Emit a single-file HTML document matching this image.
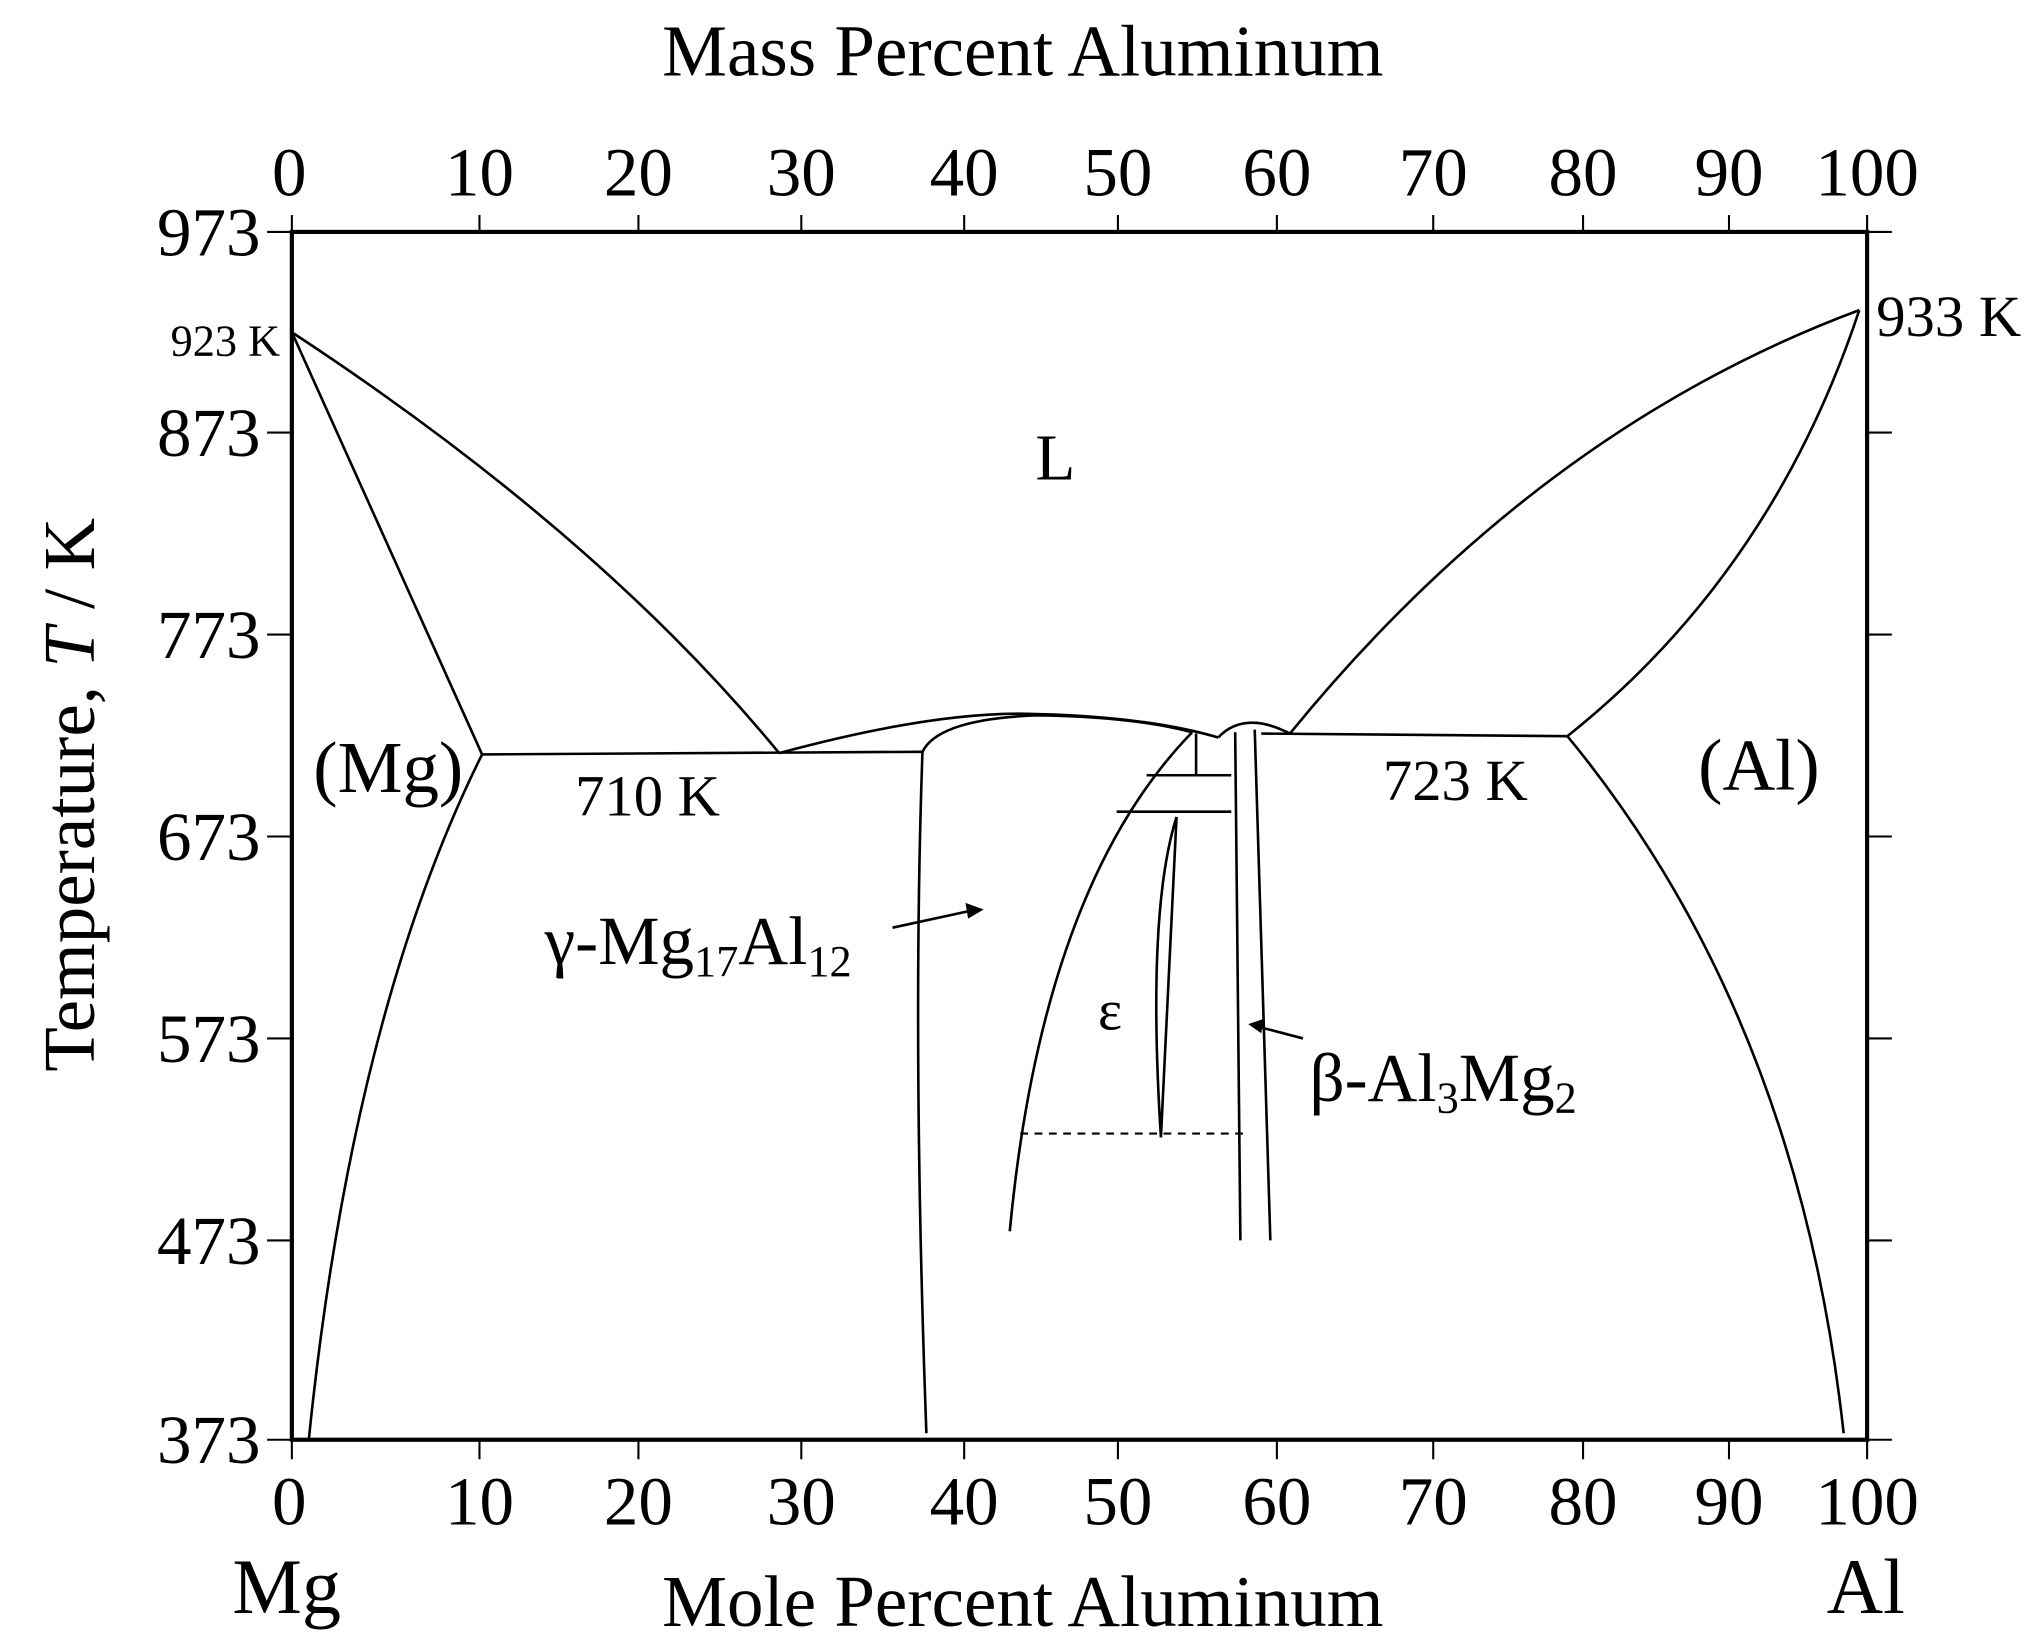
<!DOCTYPE html>
<html><head><style>html,body{margin:0;padding:0;background:#fff}svg{display:block}</style></head>
<body>
<svg width="2043" height="1649" viewBox="0 0 1568 1265.6" xmlns="http://www.w3.org/2000/svg" font-family="Liberation Serif, serif" fill="none" stroke="#000">
<rect x="224" y="178" width="1209" height="927" stroke-width="3.2"/>
<g stroke-width="1.6">
<path d="M205 178H224M205 332H224M205 487H224M205 642H224M205 797H224M205 952H224M205 1105H224"/>
<path d="M1433 332H1452M1433 487H1452M1433 642H1452M1433 797H1452M1433 952H1452M1433 1105H1452M1433 178H1452"/>
<path d="M224 165V178M368 165V178M490 165V178M615 165V178M740 165V178M858 165V178M980 165V178M1100 165V178M1215 165V178M1327 165V178M1433 165V178"/>
<path d="M224 1105V1120M368 1105V1120M490 1105V1120M615 1105V1120M740 1105V1120M858 1105V1120M980 1105V1120M1100 1105V1120M1215 1105V1120M1327 1105V1120M1433 1105V1120"/>
</g>
<g stroke-width="2">
<path d="M224 255Q460 410 598 578"/>
<path d="M224 255L370 579"/>
<path d="M370 579Q270 780 237 1105"/>
<path d="M370 579L708 577"/>
<path d="M708 577Q700 800 711 1100"/>
<path d="M598 578Q720 545 795 548Q880 550 935 566"/>
<path d="M708 577Q720 552 795 549Q870 550 915 562"/>
<path d="M915 562Q800 680 775 945"/>
<path d="M880 595H945M857 623H945M918 563V595"/>
<path d="M903 627Q880 700 891 873L903 627"/>
<path d="M948 562L952 952M963 560Q968 700 975 952"/>
<path d="M935 566Q955 545 990 563"/>
<path d="M968 563L1203 565"/>
<path d="M990 563Q1180 330 1427 238"/>
<path d="M1203 565Q1360 440 1427 238"/>
<path d="M1203 565Q1380 780 1415 1100"/>
<path d="M685 712L745 699M962 787L1000 797"/>
</g>
<path d="M783 870H955" stroke-width="1.6" stroke-dasharray="6,5"/>
<path d="M755 698L741 693L743 705Z M958 786L970 782L968 793Z" fill="#000" stroke="none"/>
<g fill="#000" stroke="none" font-size="53">
<g text-anchor="end"><text x="200" y="196">973</text><text x="200" y="350">873</text><text x="200" y="505">773</text><text x="200" y="660">673</text><text x="200" y="815">573</text><text x="200" y="970">473</text><text x="200" y="1123">373</text></g>
<g text-anchor="middle"><text x="222" y="150">0</text><text x="368" y="150">10</text><text x="490" y="150">20</text><text x="615" y="150">30</text><text x="740" y="150">40</text><text x="858" y="150">50</text><text x="980" y="150">60</text><text x="1100" y="150">70</text><text x="1215" y="150">80</text><text x="1327" y="150">90</text><text x="1433" y="150">100</text>
<text x="222" y="1170">0</text><text x="368" y="1170">10</text><text x="490" y="1170">20</text><text x="615" y="1170">30</text><text x="740" y="1170">40</text><text x="858" y="1170">50</text><text x="980" y="1170">60</text><text x="1100" y="1170">70</text><text x="1215" y="1170">80</text><text x="1327" y="1170">90</text><text x="1433" y="1170">100</text>
<text x="785" y="58" font-size="56">Mass Percent Aluminum</text><text x="785" y="1248" font-size="56">Mole Percent Aluminum</text>
<text x="220" y="1238" font-size="60">Mg</text><text x="1432" y="1238" font-size="60">Al</text>
<text x="810" y="368" font-size="50">L</text><text x="298" y="608" font-size="56">(Mg)</text><text x="1350" y="606" font-size="56">(Al)</text>
<text x="497" y="626" font-size="45">710 K</text><text x="1117" y="614" font-size="45">723 K</text>
<text x="852" y="790" font-size="44">ε</text></g>
<text x="215" y="273" font-size="34" text-anchor="end">923 K</text>
<text x="1440" y="258" font-size="45">933 K</text>
<text x="418" y="740" font-size="53">γ-Mg<tspan font-size="34" dy="9">17</tspan><tspan dy="-9">Al</tspan><tspan font-size="34" dy="9">12</tspan></text>
<text x="1005" y="845" font-size="53">β-Al<tspan font-size="34" dy="9">3</tspan><tspan dy="-9">Mg</tspan><tspan font-size="34" dy="9">2</tspan></text>
<text transform="translate(72,610) rotate(-90)" text-anchor="middle" font-size="56">Temperature, <tspan font-style="italic">T</tspan> / K</text>
</g>
</svg>
</body></html>
